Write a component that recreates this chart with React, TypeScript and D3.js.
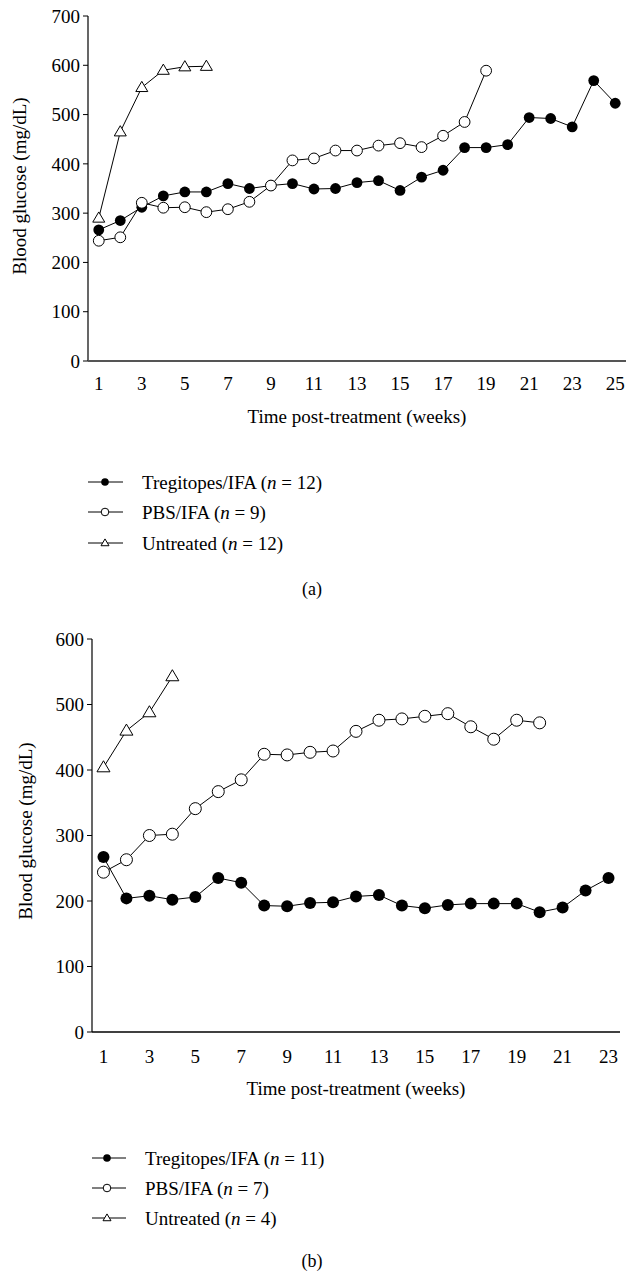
import React from "react";
import * as d3 from "d3";

// panel (a)
const tregA = [266, 285, 312, 335, 343, 343, 360, 350, 356, 360, 349, 350, 362, 366, 346, 373, 387, 433, 433, 439, 494, 492, 475, 569, 523];
const pbsA = [244, 251, 321, 311, 312, 302, 308, 323, 356, 407, 411, 427, 427, 437, 442, 434, 457, 485, 589];
const untreatedA = [290, 465, 555, 590, 597, 598];
const legendLabels = ["Tregitopes/IFA (", "PBS/IFA (", "Untreated ("];
const nA = ["12", "9", "12"];

// panel (b)
const tregB = [267, 204, 208, 202, 206, 235, 228, 193, 192, 197, 198, 207, 209, 193, 189, 194, 196, 196, 196, 183, 190, 216, 235];
const pbsB = [244, 263, 300, 302, 341, 367, 385, 424, 423, 427, 429, 459, 476, 478, 482, 486, 466, 447, 476, 472];
const untreatedB = [404, 460, 488, 543];
const nB = ["11", "7", "4"];

const font = "'Liberation Serif', 'Times New Roman', serif";
const fs = 19;

type PanelProps = {
  series: number[][];
  weeks: number;
  yMax: number;
  xRange: [number, number];
  yRange: [number, number];
  tickBase: number;
  titleBase: number;
  yTitle: [number, number];
  legendY: number[];
  legendX: [number, number, number];
  ns: string[];
  letter: string;
  letterY: number;
  r: number;
  tri: number;
  xAxisStyle: { stroke: string; width: number };
};

function tri(cx: number, cy: number, s: number) {
  const h = s * 0.85;
  return `M${cx},${cy - h * 0.6}L${cx + s / 2},${cy + h * 0.4}L${cx - s / 2},${cy + h * 0.4}Z`;
}

function Panel(p: PanelProps) {
  const x = d3.scaleLinear().domain([0.5, p.weeks + 0.5]).range(p.xRange);
  const y = d3.scaleLinear().domain([0, p.yMax]).range(p.yRange);
  const line = d3.line<number>().x((_, i) => x(i + 1)).y(d => y(d));
  const yTicks = d3.range(0, p.yMax + 1, 100);
  const xTicks = d3.range(1, p.weeks + 1, 2);
  const [x0, x1] = p.xRange;
  const [y0, y1] = p.yRange;
  const [trg, pbs, unt] = p.series;

  return (
    <g fontFamily={font} fontSize={fs} fill="#000">
      {/* axes */}
      <line x1={x0} x2={x0} y1={y0} y2={y1} stroke="#000" strokeWidth={1.2} />
      {yTicks.map(t => (
        <g key={t}>
          <line x1={x0 - 5} x2={x0} y1={y(t)} y2={y(t)} stroke="#000" />
          <text x={x0 - 8} y={y(t)} dy="0.35em" textAnchor="end">{t}</text>
        </g>
      ))}
      <line x1={x0} x2={x1} y1={y0} y2={y0} stroke={p.xAxisStyle.stroke} strokeWidth={p.xAxisStyle.width} />
      {xTicks.map(t => (
        <text key={t} x={x(t)} y={p.tickBase} textAnchor="middle">{t}</text>
      ))}
      <text x={(x0 + x1) / 2} y={p.titleBase} textAnchor="middle">Time post-treatment (weeks)</text>
      <text transform={`translate(${p.yTitle[0]},${p.yTitle[1]}) rotate(-90)`} textAnchor="middle" dy="0.35em">
        Blood glucose (mg/dL)
      </text>

      {/* series */}
      <path d={line(unt) || ""} fill="none" stroke="#000" strokeWidth={1} />
      {unt.map((d, i) => (
        <path key={i} d={tri(x(i + 1), y(d), p.tri)} fill="#fff" stroke="#000" strokeWidth={1} />
      ))}
      <path d={line(trg) || ""} fill="none" stroke="#000" strokeWidth={1} />
      {trg.map((d, i) => (
        <circle key={i} cx={x(i + 1)} cy={y(d)} r={p.r} fill="#000" />
      ))}
      <path d={line(pbs) || ""} fill="none" stroke="#000" strokeWidth={1} />
      {pbs.map((d, i) => (
        <circle key={i} cx={x(i + 1)} cy={y(d)} r={p.r} fill="#fff" stroke="#000" strokeWidth={1} />
      ))}

      {/* legend */}
      {legendLabels.map((lab, i) => {
        const ly = p.legendY[i];
        const [lx0, lm, lx1] = p.legendX;
        return (
          <g key={lab}>
            <line x1={lx0} x2={lx1} y1={ly} y2={ly} stroke="#000" strokeWidth={1} />
            {i === 0 && <circle cx={lm} cy={ly} r={3.8} fill="#000" />}
            {i === 1 && <circle cx={lm} cy={ly} r={3.8} fill="#fff" stroke="#000" />}
            {i === 2 && <path d={tri(lm, ly, 8)} fill="#fff" stroke="#000" />}
            <text x={lx1 + 19} y={ly} dy="0.35em">
              {lab}
              <tspan fontStyle="italic">n</tspan>
              {` = ${p.ns[i]})`}
            </text>
          </g>
        );
      })}
      <text x={312} y={p.letterY} textAnchor="middle" fontSize={18}>{p.letter}</text>
    </g>
  );
}

export default function App() {
  return (
    <svg width={627} height={1272} style={{ position: "absolute", left: 0, top: 0, background: "#fff" }}>
      <Panel
        series={[tregA, pbsA, untreatedA]}
        weeks={25}
        yMax={700}
        xRange={[88, 626]}
        yRange={[361, 16]}
        tickBase={390}
        titleBase={423}
        yTitle={[19, 186]}
        legendY={[482, 512, 543]}
        legendX={[88, 105, 123]}
        ns={nA}
        letter="(a)"
        letterY={595}
        r={5.4}
        tri={12}
        xAxisStyle={{ stroke: "#555", width: 2.2 }}
      />
      <Panel
        series={[tregB, pbsB, untreatedB]}
        weeks={23}
        yMax={600}
        xRange={[92, 620]}
        yRange={[1032, 639]}
        tickBase={1063}
        titleBase={1095}
        yTitle={[25, 831]}
        legendY={[1158, 1188, 1218]}
        legendX={[92, 107, 126]}
        ns={nB}
        letter="(b)"
        letterY={1267}
        r={6}
        tri={13}
        xAxisStyle={{ stroke: "#000", width: 1.5 }}
      />
    </svg>
  );
}
